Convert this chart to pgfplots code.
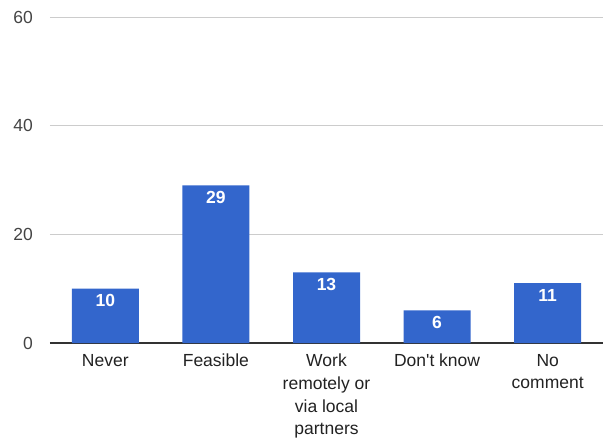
\documentclass[border=0pt]{standalone}
\usepackage{fontspec}
\setmainfont{Liberation Sans}
\usepackage{pgfplots}
\pgfplotsset{compat=1.18}
\definecolor{barblue}{HTML}{3366CC}
\definecolor{gridc}{HTML}{CCCCCC}
\definecolor{txt}{HTML}{444444}
\definecolor{xtxt}{HTML}{222222}
\definecolor{basec}{HTML}{333333}
\begin{document}
\begin{tikzpicture}
\begin{axis}[name=ax, scale only axis, width=553bp, height=326bp,
  xmin=-0.5, xmax=4.5, ymin=0, ymax=60,
  ytick={20,40,60}, extra y ticks={0},
  extra y tick style={major grid style={color=basec, line width=1.2bp}},
  xtick={0,1,2,3,4},
  xticklabels={Never, Feasible, {Work\\remotely or\\via local\\partners}, Don\textquotesingle t know, {No\\comment}},
  axis line style={draw=none},
  major tick length=0pt,
  ymajorgrids, grid style={color=gridc, line width=1bp},
  /pgf/number format/assume math mode=true,
  yticklabel style={anchor=east, inner sep=0pt, xshift=-17bp, color=txt, font=\fontsize{17.5bp}{21bp}\selectfont},
  xticklabel style={align=center, anchor=north, inner sep=0pt, yshift=-11bp, color=xtxt, font=\fontsize{17.5bp}{22.6bp}\selectfont},
  ybar, bar width=67bp,
  nodes near coords,
  every node near coord/.append style={anchor=north, inner sep=0pt, yshift=-5.8bp, color=white, font=\fontsize{17.5bp}{21bp}\selectfont\bfseries},
]
\addplot[fill=barblue, draw=none] coordinates {(0,10) (1,29) (2,13) (3,6) (4,11)};
\end{axis}
\pgfresetboundingbox
\path ([xshift=-50bp,yshift=-97bp]ax.south west) rectangle ([yshift=17bp]ax.north east);
\end{tikzpicture}
\end{document}
